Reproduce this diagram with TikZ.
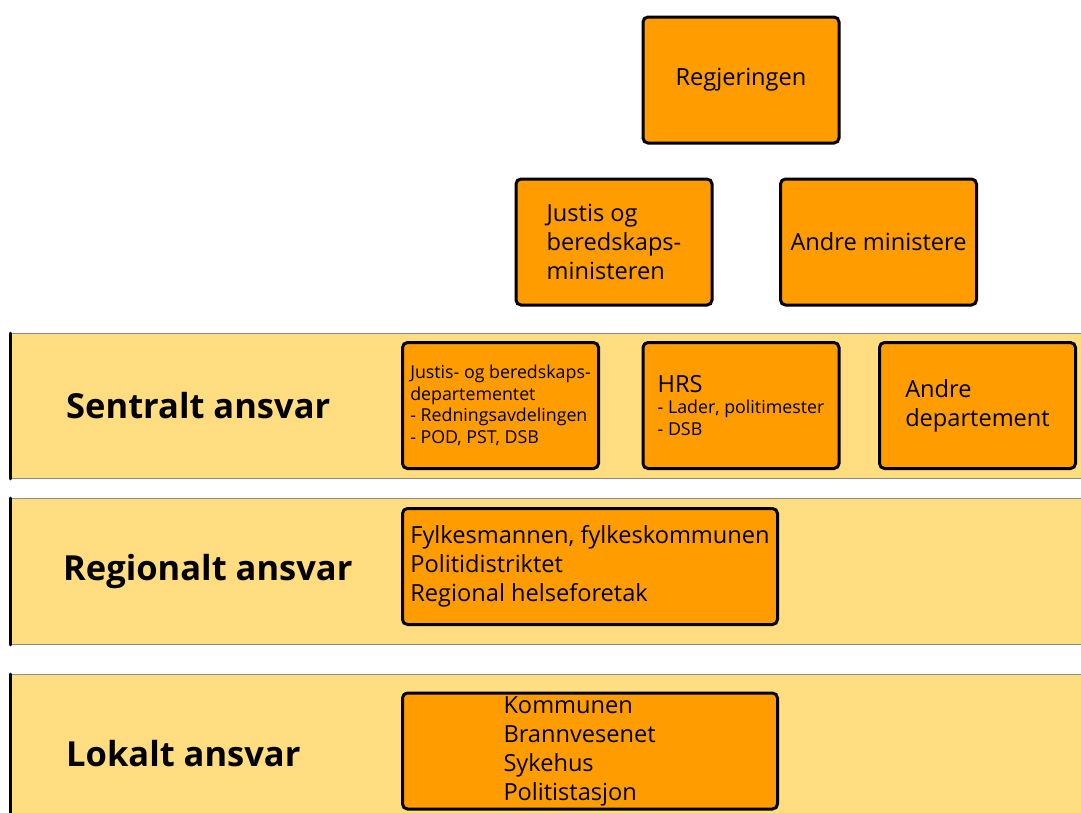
\documentclass[tikz,border=0pt]{standalone}
\usepackage{fontspec}
\setmainfont{Open Sans}
\usetikzlibrary{positioning}
\definecolor{ansYellow}{HTML}{FFDD80}
\definecolor{ansOrange}{HTML}{FF9C00}
\definecolor{ansLine}{HTML}{8A8A8A}
\tikzset{
  orgbox/.style={
    rectangle,
    rounded corners=5pt,
    draw=black,
    line width=3pt,
    fill=ansOrange,
    align=left,
    inner sep=0pt,
    font=\fontsize{23.6}{29}\selectfont,
    minimum width=196pt,
    minimum height=126pt
  },
  widebox/.style={orgbox, minimum width=375pt, minimum height=116pt},
  smalltext/.style={font=\fontsize{17.8}{21.5}\selectfont},
  band/.style={
    rectangle,
    draw=ansLine,
    line width=0.8pt,
    fill=ansYellow,
    anchor=north west,
    minimum width=1100pt,
    inner sep=0pt
  },
  bandedge/.style={line width=3pt, draw=black, line cap=round},
  bandlabel/.style={font=\bfseries\fontsize{34.5}{40}\selectfont, inner sep=0pt}
}

\begin{document}
\begin{tikzpicture}[x=1pt, y=-1pt]
  \clip (0,0) rectangle (1081,812);
  % bands
  \node[band, minimum height=145pt] (sentral) at (10,333) {};
  \node[band, minimum height=146pt] (regional) at (10,498) {};
  \node[band, minimum height=158pt] (lokal) at (10,674) {};
  \foreach \b in {sentral, regional, lokal}
    \draw[bandedge] (\b.north west) -- (\b.south west);
  \node[bandlabel, right=56pt of sentral.west] (sentrallbl) {Sentralt ansvar};
  \node[bandlabel, right=53pt of regional.west] (regionallbl) {Regionalt ansvar};
  \node[bandlabel, right=56pt of lokal.west] (lokallbl) {Lokalt ansvar};
  % government
  \node[orgbox] (regjering) at (741,80) {Regjeringen};
  \node[orgbox] (justismin) at (614,242) {Justis og\\beredskaps-\\ministeren};
  \node[orgbox] (andremin) at (878.5,242) {Andre ministere};
  % central level
  \node[orgbox, smalltext] (jd) at (500.5,405.5)
    {Justis- og beredskaps-\\departementet\\- Redningsavdelingen\\- POD, PST, DSB};
  \node[orgbox, smalltext] (hrs) at (741,405.5)
    {{\fontsize{23.6}{24}\selectfont HRS}\\- Lader, politimester\\- DSB};
  \node[orgbox] (andredep) at (977.5,405.5) {Andre\\departement};
  % regional and local level
  \node[widebox] (fylke) at (590,566.5)
    {Fylkesmannen, fylkeskommunen\\Politidistriktet\\Regional helseforetak};
  \node[widebox, inner xsep=101pt, text width=173pt] (kommune) at (590,751)
    {Kommunen\\Brannvesenet\\Sykehus\\Politistasjon};
\end{tikzpicture}
\end{document}
